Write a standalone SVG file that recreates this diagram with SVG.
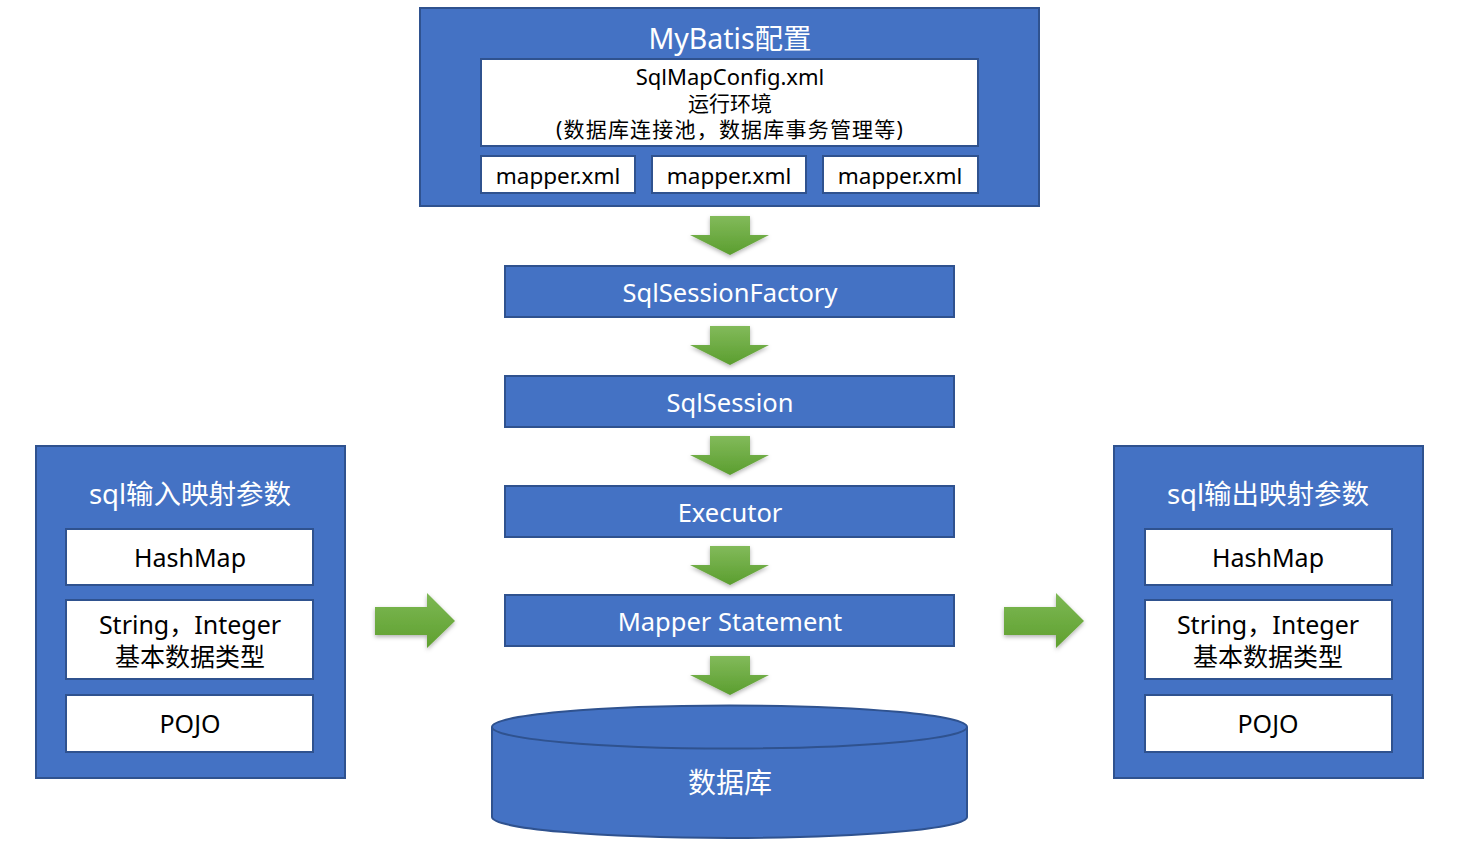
<svg xmlns="http://www.w3.org/2000/svg" width="1460" height="845" viewBox="0 0 1460 845">
<defs>
<linearGradient id="g" x1="0" y1="0" x2="0" y2="1"><stop offset="0" stop-color="#82BA5A"/><stop offset="1" stop-color="#5B9E2F"/></linearGradient>
<linearGradient id="gh" x1="0" y1="0" x2="0" y2="1"><stop offset="0" stop-color="#7DB854"/><stop offset="1" stop-color="#5FA02F"/></linearGradient>
<filter id="sh" x="-20%" y="-20%" width="140%" height="150%"><feDropShadow dx="0" dy="2" stdDeviation="2" flood-color="#000" flood-opacity="0.3"/></filter>
</defs>
<style>
.blue{fill:#4472C4;stroke:#2F528F;stroke-width:2}
.white{fill:#FFFFFF;stroke:#2F528F;stroke-width:2}
text{font-family:"Noto Sans","Noto Sans CJK SC",sans-serif;text-anchor:middle;dominant-baseline:central}
.wt{fill:#FFFFFF}
.bt{fill:#000000}
.arr{fill:url(#g);filter:url(#sh)}
.arrh{fill:url(#gh);filter:url(#sh)}
</style>
<rect width="1460" height="845" fill="#FFFFFF"/>

<g id="mybatis-config">
<rect class="blue" x="420" y="8" width="619" height="198"/>
<text class="wt" x="730" y="38" font-size="28.5">MyBatis配置</text>
<rect class="white" x="481" y="59" width="497" height="87"/>
<text class="bt" x="730" y="76" font-size="22">SqlMapConfig.xml</text>
<text class="bt" x="730" y="103" font-size="21">运行环境</text>
<text class="bt" x="730" y="129" font-size="21" letter-spacing="1.2">(数据库连接池，数据库事务管理等)</text>
</g>
<g id="mapper1"><rect class="white" x="481" y="156" width="154" height="37"/><text class="bt" x="558" y="175" font-size="22.5">mapper.xml</text></g>
<g id="mapper2"><rect class="white" x="652" y="156" width="154" height="37"/><text class="bt" x="729" y="175" font-size="22.5">mapper.xml</text></g>
<g id="mapper3"><rect class="white" x="823" y="156" width="155" height="37"/><text class="bt" x="900" y="175" font-size="22.5">mapper.xml</text></g>

<g id="sqlsessionfactory"><rect class="blue" x="505" y="266" width="449" height="51"/><text class="wt" x="730" y="292" font-size="25.5">SqlSessionFactory</text></g>
<g id="sqlsession"><rect class="blue" x="505" y="376" width="449" height="51"/><text class="wt" x="730" y="402" font-size="25.5">SqlSession</text></g>
<g id="executor"><rect class="blue" x="505" y="486" width="449" height="51"/><text class="wt" x="730" y="512" font-size="25.5">Executor</text></g>
<g id="mapper-statement"><rect class="blue" x="505" y="595" width="449" height="51"/><text class="wt" x="730" y="621" font-size="25.5">Mapper Statement</text></g>

<g id="database">
<path class="blue" d="M492,727 L492,817 A237.5,21 0 0 0 967,817 L967,727"/>
<ellipse class="blue" cx="729.5" cy="727" rx="237.5" ry="21.5"/>
<text class="wt" x="730" y="782" font-size="28">数据库</text>
</g>

<g id="input-params">
<rect class="blue" x="36" y="446" width="309" height="332"/>
<text class="wt" x="190" y="493" font-size="27.5">sql输入映射参数</text>
<rect class="white" x="66" y="529" width="247" height="56"/>
<text class="bt" x="190" y="557" font-size="25">HashMap</text>
<rect class="white" x="66" y="600" width="247" height="79"/>
<text class="bt" x="190" y="624" font-size="25">String，Integer</text>
<text class="bt" x="190" y="656" font-size="25">基本数据类型</text>
<rect class="white" x="66" y="695" width="247" height="57"/>
<text class="bt" x="190" y="723" font-size="25">POJO</text>
</g>

<g id="output-params">
<rect class="blue" x="1114" y="446" width="309" height="332"/>
<text class="wt" x="1268" y="493" font-size="27.5">sql输出映射参数</text>
<rect class="white" x="1145" y="529" width="247" height="56"/>
<text class="bt" x="1268" y="557" font-size="25">HashMap</text>
<rect class="white" x="1145" y="600" width="247" height="79"/>
<text class="bt" x="1268" y="624" font-size="25">String，Integer</text>
<text class="bt" x="1268" y="656" font-size="25">基本数据类型</text>
<rect class="white" x="1145" y="695" width="247" height="57"/>
<text class="bt" x="1268" y="723" font-size="25">POJO</text>
</g>

<g id="connectors">
<path class="arr" d="M710,216 H750 V235 H769 L730,255 L690,235 H710 Z"/>
<path class="arr" d="M710,326 H750 V345 H769 L730,365 L690,345 H710 Z"/>
<path class="arr" d="M710,436 H750 V455 H769 L730,475 L690,455 H710 Z"/>
<path class="arr" d="M710,546 H750 V565 H769 L730,585 L690,565 H710 Z"/>
<path class="arr" d="M710,656 H750 V675 H769 L730,695 L690,675 H710 Z"/>
<path class="arrh" d="M375,607 H427 V593 L455,621 L427,648 V635 H375 Z"/>
<path class="arrh" d="M1004,607 H1056 V593 L1084,621 L1056,648 V635 H1004 Z"/>
</g>
</svg>
